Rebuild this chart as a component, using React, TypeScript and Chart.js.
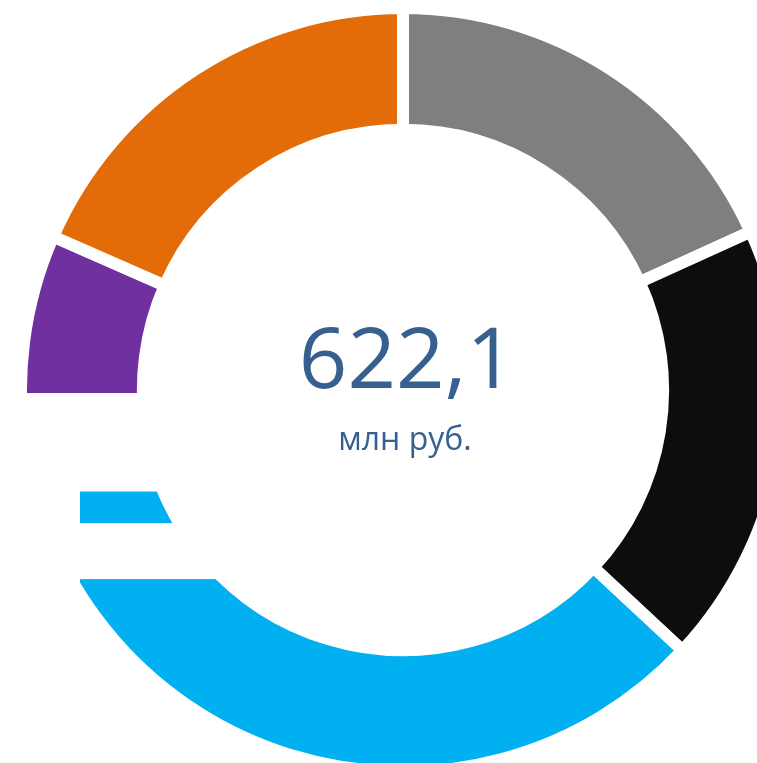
import React, { useEffect, useRef } from "react";
import { Chart, registerables } from "chart.js";

Chart.register(...registerables);

const categories = ["Сегмент 1", "Сегмент 2", "Сегмент 3", "Сегмент 4", "Сегмент 5"];
const values = [113.2, 116.6, 221.2, 56.5, 114.6];
const colors = ["#7F7F7F", "#0D0D0D", "#00B0F0", "#7030A0", "#E36C09"];
const totalLabel = "622,1";
const unitLabel = "млн руб.";

const GAP = 12;

// white masking blocks (label areas erased in the source), in units of the visible outer radius
const masks = [
  { x0: -1.2, x1: -0.41, y0: 0.008, y1: 0.27 },
  { x0: -1.2, x1: -0.41, y0: 0.354, y1: 0.503 },
  { x0: -1.2, x1: -0.859, y0: 0.26, y1: 0.62 },
];

const overlayPlugin = {
  id: "overlay",
  afterDraw(chart: any) {
    const arc = chart.getDatasetMeta(0).data[0];
    if (!arc) return;
    const { x, y, outerRadius } = arc.getProps(["x", "y", "outerRadius"], true);
    const R = outerRadius - GAP / 2;
    const ctx = chart.ctx;
    ctx.save();
    ctx.fillStyle = "#FFFFFF";
    masks.forEach((m) => {
      ctx.fillRect(x + m.x0 * R, y + m.y0 * R, (m.x1 - m.x0) * R, (m.y1 - m.y0) * R);
    });
    ctx.fillStyle = "#35608F";
    ctx.textAlign = "center";
    ctx.textBaseline = "alphabetic";
    ctx.font = '85px "Open Sans"';
    ctx.fillText(totalLabel, x + 4, y - 2);
    ctx.font = '32px "Open Sans"';
    ctx.fillText(unitLabel, x + 2, y + 60);
    ctx.restore();
  },
};

export default function App() {
  const ref = useRef<HTMLCanvasElement | null>(null);
  useEffect(() => {
    if (!ref.current) return;
    const chart = new Chart(ref.current, {
      type: "doughnut",
      data: {
        labels: categories,
        datasets: [
          {
            data: values,
            backgroundColor: colors,
            borderColor: "#FFFFFF",
            borderWidth: GAP,
            borderJoinStyle: "miter",
            hoverOffset: 0,
          } as any,
        ],
      },
      options: {
        animation: false,
        responsive: false,
        maintainAspectRatio: false,
        cutout: "68.1%",
        layout: { padding: 0 },
        plugins: { legend: { display: false }, tooltip: { enabled: false } },
      },
      plugins: [overlayPlugin],
    });
    return () => chart.destroy();
  }, []);
  return (
    <div style={{ position: "fixed", left: 0, top: 0, width: 757, height: 763, overflow: "hidden", background: "#fff" }}>
      <canvas ref={ref} width={776} height={776} style={{ position: "absolute", left: 15, top: 2, width: 776, height: 776 }} />
    </div>
  );
}
